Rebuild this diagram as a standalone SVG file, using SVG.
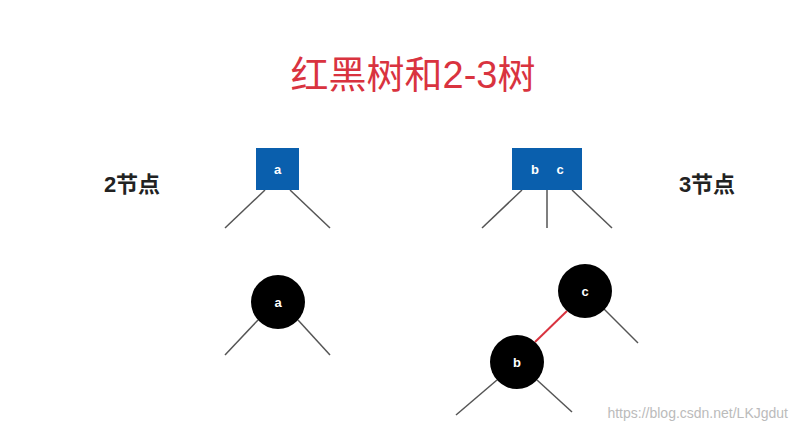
<svg xmlns="http://www.w3.org/2000/svg" width="800" height="434" viewBox="0 0 800 434">
<style>
.lbl{font-family:"Liberation Sans","Noto Sans CJK SC",sans-serif}
.ln{stroke:#555;stroke-width:1.5;fill:none}
.box{fill:#0a5fad}
.bt{fill:#fff;font-family:"Liberation Sans",sans-serif;font-size:13px;font-weight:bold;text-anchor:middle}
.cir{fill:#000}
</style>
<rect width="800" height="434" fill="#fff"/>
<text class="lbl" x="413" y="88" font-size="38" fill="#d9333f" text-anchor="middle">红黑树和2-3树</text>
<text class="lbl" x="132" y="192" font-size="22" font-weight="bold" fill="#222" text-anchor="middle">2节点</text>
<text class="lbl" x="707" y="192" font-size="22" font-weight="bold" fill="#222" text-anchor="middle">3节点</text>
<g id="connectors">
<line class="ln" x1="265" y1="190" x2="225" y2="228"/>
<line class="ln" x1="290" y1="190" x2="330" y2="228"/>
<line class="ln" x1="522" y1="190" x2="482" y2="228"/>
<line class="ln" x1="547" y1="190" x2="547" y2="228"/>
<line class="ln" x1="572" y1="190" x2="612" y2="228"/>
<line class="ln" x1="258" y1="320" x2="225" y2="355"/>
<line class="ln" x1="298" y1="320" x2="330" y2="355"/>
<line x1="567" y1="311" x2="535" y2="342" stroke="#d9333f" stroke-width="2"/>
<line class="ln" x1="602" y1="307" x2="638" y2="343"/>
<line class="ln" x1="497" y1="380" x2="456" y2="415"/>
<line class="ln" x1="537" y1="380" x2="572" y2="412"/>
</g>
<g id="node-a-box"><rect class="box" x="256" y="148" width="43" height="42"/><text class="bt" x="277.5" y="174">a</text></g>
<g id="node-bc-box"><rect class="box" x="512" y="148" width="70" height="42"/><text class="bt" x="535" y="174">b</text><text class="bt" x="560" y="174">c</text></g>
<g id="node-a-circle"><circle class="cir" cx="278" cy="302" r="27"/><text class="bt" x="278" y="307">a</text></g>
<g id="node-c-circle"><circle class="cir" cx="585" cy="291" r="27"/><text class="bt" x="585" y="296">c</text></g>
<g id="node-b-circle"><circle class="cir" cx="517" cy="362" r="27"/><text class="bt" x="517" y="367">b</text></g>
<text class="lbl" x="788" y="418" font-size="14" fill="#bbb" text-anchor="end">https://blog.csdn.net/LKJgdut</text>
</svg>
